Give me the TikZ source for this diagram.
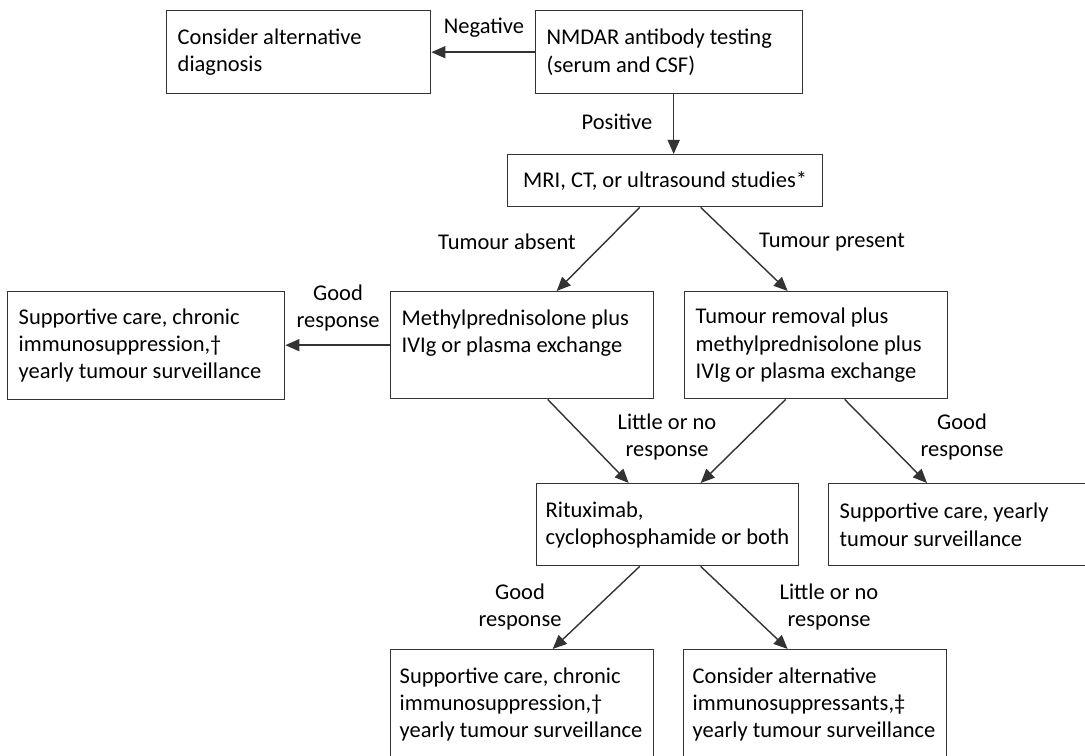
\documentclass[tikz,border=0pt]{standalone}
\usepackage{fontspec}
\setmainfont{Carlito}
\usetikzlibrary{arrows.meta}
\hyphenpenalty=10000
\exhyphenpenalty=10000

\tikzset{
  box/.style={draw=black!80, line width=0.8pt, rectangle, align=flush left, anchor=north west,
    inner xsep=0.22cm, inner ysep=1pt, font=\fontsize{12.8}{15.5}\selectfont},
  arr/.style={draw=black!80, line width=0.8pt, -{Triangle[length=0.28cm,width=0.24cm]}},
  lbl/.style={align=flush center, inner sep=0pt, font=\fontsize{12.8}{15.5}\selectfont}
}

\begin{document}
\begin{tikzpicture}[x=0.02cm,y=-0.02cm]
\clip (0,0) rectangle (1085,756);

\node[box, text width=4.84cm, minimum height=1.66cm] (altdiag) at (166,10) {Consider alternative\\diagnosis};
\node[box, text width=4.9cm, minimum height=1.66cm] (nmdar) at (535,10) {NMDAR antibody testing\\(serum and CSF)};
\node[box, align=flush center, minimum width=6.3cm, minimum height=1.04cm] (imaging) at (507,154) {MRI, CT, or ultrasound studies*};
\node[box, text width=5.1cm, minimum height=2.16cm] (suppleft) at (7,291) {Supportive care, chronic\\immunosuppression,†\\yearly tumour surveillance};
\node[box, text width=4.82cm, minimum height=2.14cm] (steroids) at (390,291) {Methylprednisolone plus\\IVIg or plasma exchange\\~};
\node[box, text width=4.82cm, minimum height=2.14cm] (removal) at (684,291) {Tumour removal plus\\methylprednisolone plus\\IVIg or plasma exchange};
\node[box, inner xsep=0.18cm, text width=4.88cm, minimum height=1.64cm] (rituximab) at (536,483) {Rituximab,\\cyclophosphamide or both};
\node[box, text width=5.16cm, minimum height=1.64cm] (suppright) at (828,483) {Supportive care, yearly\\tumour surveillance};
\node[box, inner xsep=0.18cm, text width=4.9cm, minimum height=2.2cm] (suppbottom) at (390,649) {Supportive care, chronic\\immunosuppression,†\\yearly tumour surveillance};
\node[box, inner xsep=0.18cm, text width=4.9cm, minimum height=2.2cm] (altimmuno) at (683,649) {Consider alternative\\immunosuppressants,‡\\yearly tumour surveillance};

\node[lbl] (negative) at (484,28) {Negative};
\node[lbl] (positive) at (617,122) {Positive};
\node[lbl] (absent) at (507,242) {Tumour absent};
\node[lbl] (present) at (832,242) {Tumour present};
\node[lbl] (goodleft) at (338,308) {Good\\response};
\node[lbl] (littlemid) at (667,437) {Little or no\\response};
\node[lbl] (goodright) at (962,437) {Good\\response};
\node[lbl] (goodbottom) at (520,607) {Good\\response};
\node[lbl] (littlebottom) at (829,607) {Little or no\\response};

\draw[arr] (nmdar.west) -- (altdiag.east);
\draw[arr] ([xshift=0.09cm]nmdar.south) -- ([xshift=0.09cm]nmdar.south |- imaging.north);
\draw[arr] ([xshift=-0.51cm]imaging.south) -- ([xshift=0.69cm]steroids.north);
\draw[arr] ([xshift=0.71cm]imaging.south) -- ([xshift=-0.57cm]removal.north);
\draw[arr] (steroids.west) -- (steroids.west -| suppleft.east);
\draw[arr] ([xshift=0.51cm]steroids.south) -- ([xshift=-0.78cm]rituximab.north);
\draw[arr] ([xshift=-0.61cm]removal.south) -- ([xshift=0.66cm]rituximab.north);
\draw[arr] ([xshift=0.57cm]removal.south) -- ([xshift=1.98cm]suppright.north west);
\draw[arr] ([xshift=-0.56cm]rituximab.south) -- ([xshift=0.61cm]suppbottom.north);
\draw[arr] ([xshift=0.66cm]rituximab.south) -- ([xshift=-0.55cm]altimmuno.north);
\end{tikzpicture}
\end{document}
